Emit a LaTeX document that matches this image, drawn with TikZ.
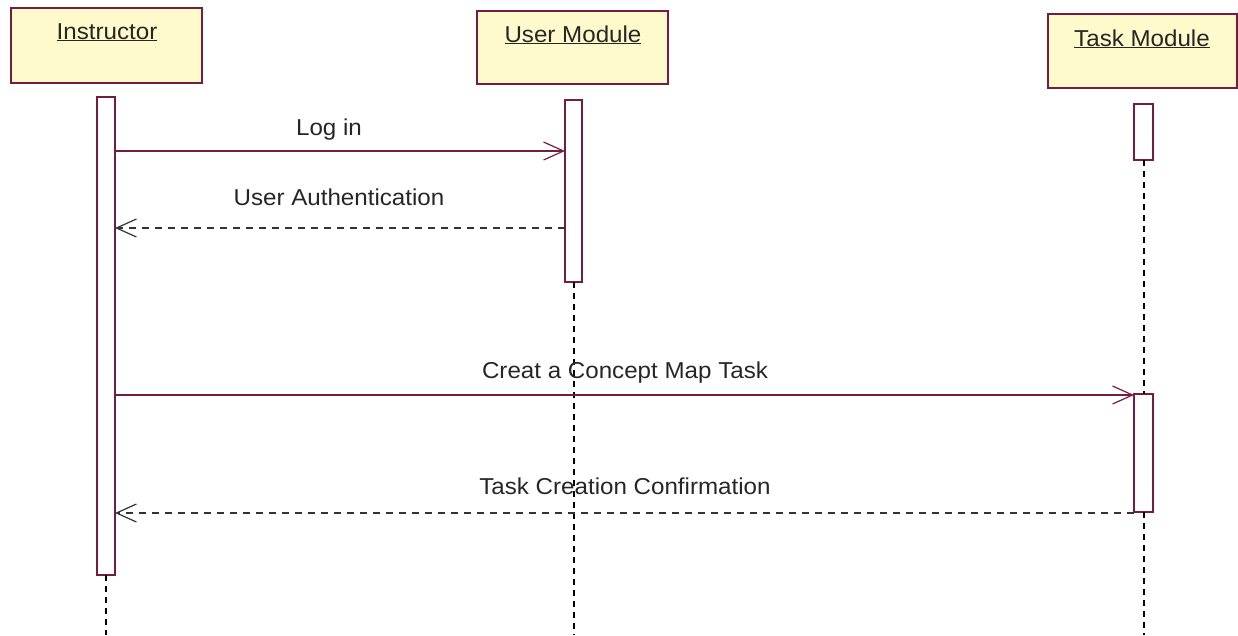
\documentclass[tikz,border=0pt]{standalone}
\usepackage{fontspec}
\setmainfont{Liberation Sans}[FakeStretch=1.05]
\usetikzlibrary{arrows.meta}
\definecolor{rose}{RGB}{118,28,62}
\definecolor{hdrfill}{RGB}{255,250,204}
\begin{document}
\begin{tikzpicture}[x=1pt,y=-1pt,
  every node/.style={inner sep=0pt,outer sep=0pt},
  hdrbox/.style={draw=rose,fill=hdrfill,line width=1.4pt,anchor=north west},
  hdrtext/.style={anchor=base,font=\fontsize{23}{27}\selectfont,text=black!85},
  actbox/.style={draw=rose,fill=white,line width=1.3pt},
  lifeline/.style={draw=black,line width=2pt,dash pattern=on 6pt off 5pt},
  msg/.style={draw=rose,line width=1.3pt,-{Straight Barb[length=20pt,width=18pt,line width=1.2pt]}},
  reply/.style={draw=black!80,line width=1.3pt,dash pattern=on 7pt off 6pt,-{Straight Barb[length=20pt,width=18pt,line width=1.2pt]}},
  msgtext/.style={anchor=base,font=\fontsize{23}{27}\selectfont,text=black!85}]
\useasboundingbox (0,0) rectangle (1238,635);
% header boxes
\node[hdrbox,minimum width=191pt,minimum height=75pt] (ibox) at (11,8) {};
\node[hdrbox,minimum width=191pt,minimum height=73pt] (ubox) at (477,11) {};
\node[hdrbox,minimum width=189pt,minimum height=74pt] (tbox) at (1048,14) {};
\node[hdrtext] (itext) at (107,39) {\underline{Instructor}};
\node[hdrtext] (utext) at (573,42) {\underline{User Module}};
\node[hdrtext] (ttext) at (1142,46) {\underline{Task Module}};
% lifeline ends
\coordinate (iend) at (106,635);
\coordinate (uend) at (573.5,635);
\coordinate (tend) at (1143.5,635);
% activations
\node[actbox,minimum width=18pt,minimum height=478pt] (iact) at (106,336) {};
\node[actbox,minimum width=17pt,minimum height=182pt] (uact) at (573.5,191) {};
\node[actbox,minimum width=19pt,minimum height=56pt] (tact1) at (1143.5,132) {};
\node[actbox,minimum width=19pt,minimum height=118pt] (tact2) at (1143.5,453) {};
% lifelines
\draw[lifeline] (iact.south) -- (iend);
\draw[lifeline] (uact.south) -- (uend);
\draw[lifeline] (tact1.south) -- (tact2.north);
\draw[lifeline] (tact2.south) -- (tend);
% messages
\draw[msg] (iact.east |- 0,151) -- (uact.west |- 0,151);
\node[msgtext] (m1) at (329,135) {Log in};
\draw[reply] (uact.west |- 0,228) -- (iact.east |- 0,228);
\node[msgtext] (m2) at (339,205) {User Authentication};
\draw[msg] (iact.east |- 0,395) -- (tact2.west |- 0,395);
\node[msgtext] (m3) at (625,378) {Creat a Concept Map Task};
\draw[reply] (tact2.west |- 0,513) -- (iact.east |- 0,513);
\node[msgtext] (m4) at (625,494) {Task Creation Confirmation};
\end{tikzpicture}
\end{document}
